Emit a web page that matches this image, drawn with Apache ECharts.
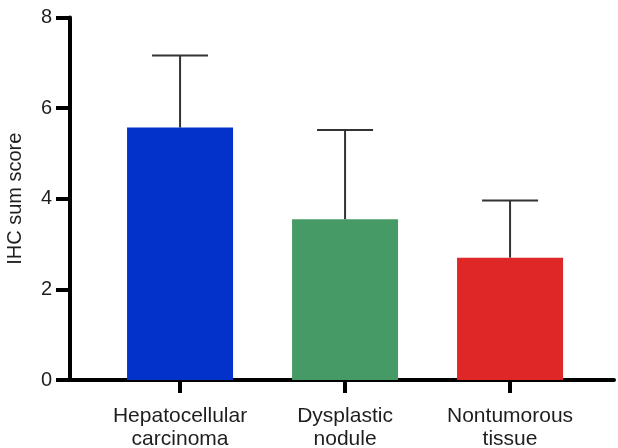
<!DOCTYPE html>
<html>
<head>
<meta charset="utf-8">
<script src="https://cdn.jsdelivr.net/npm/echarts@6/dist/echarts.min.js"></script>
<style>html,body{margin:0;padding:0;background:#fff;}#c{width:618px;height:448px;}</style>
</head>
<body>
<div id="c"></div>
<script>
const categories = ['Hepatocellular\ncarcinoma', 'Dysplastic\nnodule', 'Nontumorous\ntissue'];
const means = [5.57, 3.55, 2.70];
const upperErrors = [7.16, 5.52, 3.96];
const barColors = ['#0232c9', '#469a66', '#e02727'];
const yTicks = [0, 2, 4, 6, 8];

const chart = echarts.init(document.getElementById('c'));
const font = 'Liberation Sans, Arial, Helvetica, sans-serif';
const idx = categories.map((_, i) => i);

chart.setOption({
  animation: false,
  grid: { left: 70, right: 4, top: 17.5, bottom: 68, outerBoundsMode: 'none', containLabel: false },
  xAxis: {
    type: 'value',
    min: -0.667,
    max: 2.63,
    splitLine: { show: false },
    axisLine: { show: true, onZero: false, lineStyle: { color: '#000', width: 4 } },
    axisTick: { show: true, customValues: idx, length: 13, lineStyle: { color: '#000', width: 4 } },
    axisLabel: {
      customValues: idx,
      formatter: v => categories[Math.round(v)],
      color: '#1e1e1e', fontSize: 21, fontFamily: font, lineHeight: 23, margin: 25
    }
  },
  yAxis: {
    type: 'value',
    min: 0, max: 8, interval: 2,
    name: 'IHC sum score',
    nameLocation: 'middle',
    nameGap: 45,
    nameTextStyle: { color: '#1e1e1e', fontSize: 20, fontFamily: font },
    splitLine: { show: false },
    axisLine: { show: true, onZero: false, lineStyle: { color: '#000', width: 4 } },
    axisTick: { show: true, length: 14, lineStyle: { color: '#000', width: 4 } },
    axisLabel: { color: '#1e1e1e', fontSize: 20, fontFamily: font, margin: 18,
      formatter: v => yTicks.includes(v) ? String(v) : '' }
  },
  series: [
    {
      type: 'bar',
      barWidth: 106,
      data: means.map((m, i) => ({ value: [i, m], itemStyle: { color: barColors[i] } })),
      z: 2
    },
    {
      type: 'custom',
      z: 3,
      renderItem: function (params, api) {
        const x = api.value(0);
        const top = api.coord([x, api.value(1)]);
        const base = api.coord([x, api.value(2)]);
        const hw = 28;
        const style = { stroke: '#333', lineWidth: 2 };
        return {
          type: 'group',
          children: [
            { type: 'line', shape: { x1: top[0], y1: top[1], x2: base[0], y2: base[1] }, style: style },
            { type: 'line', shape: { x1: top[0] - hw, y1: top[1], x2: top[0] + hw, y2: top[1] }, style: style }
          ]
        };
      },
      data: upperErrors.map((u, i) => [i, u, means[i]])
    }
  ]
});
</script>
</body>
</html>
